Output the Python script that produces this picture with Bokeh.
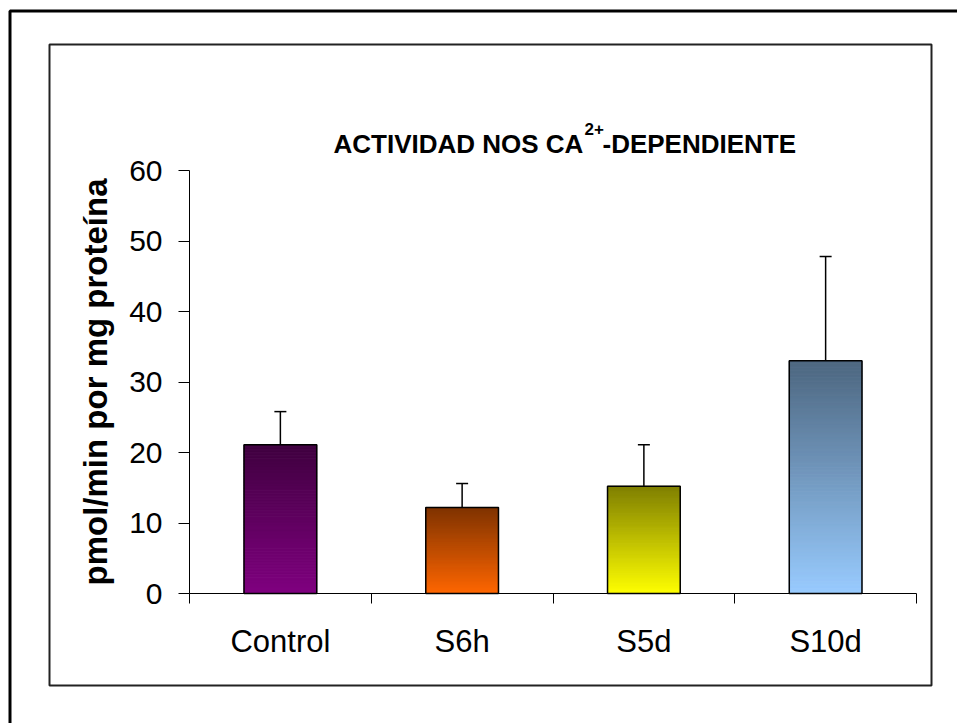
import numpy as np
from bokeh.plotting import figure
from bokeh.models import (Range1d, FixedTicker, ColumnDataSource, Whisker, TeeHead,
                          BoxAnnotation, Label, CustomJSTickFormatter)
from bokeh.embed import file_html
from bokeh.resources import INLINE

# ---- data ----
categories = ["Control", "S6h", "S5d", "S10d"]
means = [21.1, 12.2, 15.2, 33.0]
errors = [4.7, 3.4, 5.9, 14.8]
base_colors = ["#800080", "#ff6600", "#ffff00", "#99ccff"]
y_ticks = [0, 10, 20, 30, 40, 50, 60]
title_main = "ACTIVIDAD NOS CA"
title_sup = "2+"
title_end = "-DEPENDIENTE"
y_label = "pmol/min por mg proteína"

FONT = "Liberation Sans"

# ---- layout (pixels on the page) ----
W, H = 957, 723
AX_LEFT, AX_RIGHT = 189, 916     # x pixel of the axis span
AX_BOTTOM, AX_TOP = 593, 170     # y pixel of 0 and of the top tick

n = len(categories)
ymax = y_ticks[-1]
px_x = (AX_RIGHT - AX_LEFT) / n
px_y = (AX_BOTTOM - AX_TOP) / ymax
x_range = Range1d(-AX_LEFT / px_x, (W - AX_LEFT) / px_x)
y_range = Range1d(-(H - AX_BOTTOM) / px_y, AX_BOTTOM / px_y)

centers = np.arange(n) + 0.5
bar_w = 0.4

p = figure(width=W, height=H, x_range=x_range, y_range=y_range,
           min_border=0, min_border_left=0, min_border_right=0,
           min_border_top=0, min_border_bottom=0,
           output_backend="svg", toolbar_location=None, tools="")
p.background_fill_color = "white"
p.border_fill_color = "white"
p.outline_line_color = None
p.xgrid.visible = False
p.ygrid.visible = False


def hex2rgb(h):
    h = h.lstrip("#")
    return np.array([int(h[i:i + 2], 16) for i in (0, 2, 4)], dtype=float)


# gradient bars: slices from bright (bottom) to dark (top)
nslices = 100
sl = dict(left=[], right=[], bottom=[], top=[], color=[])
for i, (v, c) in enumerate(zip(means, base_colors)):
    rgb = hex2rgb(c)
    for k in range(nslices):
        t = (k + 0.5) / nslices
        col = rgb * (1 - 0.5 * t)
        sl["left"].append(centers[i] - bar_w / 2)
        sl["right"].append(centers[i] + bar_w / 2)
        sl["bottom"].append(v * k / nslices)
        sl["top"].append(v * (k + 1) / nslices)
        sl["color"].append("#%02x%02x%02x" % tuple(int(round(x)) for x in col))
p.quad(left="left", right="right", bottom="bottom", top="top",
       fill_color="color", line_color="color", line_width=1,
       source=ColumnDataSource(sl))

# bar outlines
p.quad(left=centers - bar_w / 2, right=centers + bar_w / 2, bottom=0, top=means,
       fill_color=None, line_color="black", line_width=1.5)

# error bars (upper only)
err_src = ColumnDataSource(dict(x=centers, lower=means,
                                upper=[m + e for m, e in zip(means, errors)]))
p.add_layout(Whisker(base="x", lower="lower", upper="upper", source=err_src,
                     line_color="black", line_width=1.5, lower_head=None,
                     upper_head=TeeHead(size=12, line_color="black", line_width=1.5)))

# axes, placed at the data origin
xa = p.xaxis[0]
xa.fixed_location = 0
xa.bounds = (0, n)
xa.ticker = FixedTicker(ticks=list(centers), minor_ticks=list(range(n + 1)))
xa.formatter = CustomJSTickFormatter(args=dict(labels=categories),
                                     code="return labels[Math.floor(tick)] || '';")
xa.major_tick_in = 0
xa.major_tick_out = 0
xa.minor_tick_in = 0
xa.minor_tick_out = 10
xa.minor_tick_line_color = "black"
xa.axis_line_color = "black"
xa.major_label_standoff = 20
xa.major_label_text_font = FONT
xa.major_label_text_font_size = "31px"
xa.major_label_text_color = "black"

ya = p.yaxis[0]
ya.fixed_location = 0
ya.bounds = (0, ymax)
ya.ticker = FixedTicker(ticks=y_ticks)
ya.major_tick_in = 0
ya.major_tick_out = 11
ya.minor_tick_out = 0
ya.major_tick_line_color = "black"
ya.axis_line_color = "black"
ya.major_label_standoff = 16
ya.major_label_text_font = FONT
ya.major_label_text_font_size = "30px"
ya.major_label_text_color = "black"
ya.axis_label = y_label
ya.axis_label_text_font = FONT
ya.axis_label_text_font_style = "bold"
ya.axis_label_text_font_size = "33px"
ya.axis_label_text_color = "black"
ya.axis_label_standoff = 12

# frames (screen units: from the left and bottom of the canvas-wide frame)
scr = dict(left_units="screen", right_units="screen",
           top_units="screen", bottom_units="screen",
           fill_alpha=0, fill_color=None, line_alpha=1)
p.add_layout(BoxAnnotation(left=49, right=931, top=H - 44, bottom=H - 685,
                           line_color="#222222", line_width=2, **scr))
p.add_layout(BoxAnnotation(left=9.5, right=W + 50, top=H - 10.5, bottom=-50,
                           line_color="black", line_width=3, **scr))

# title with superscript
common = dict(x_units="screen", y_units="screen", text_font=FONT,
              text_font_style="bold", text_color="black",
              text_baseline="alphabetic", text_align="left")
p.add_layout(Label(x=333, y=H - 143, text=title_main, text_font_size="26px", **common))
p.add_layout(Label(x=584, y=H - 128, text=title_sup, text_font_size="17px", **common))
p.add_layout(Label(x=602, y=H - 143, text=title_end, text_font_size="26px", **common))

open("out.html", "w").write(file_html(p, INLINE))
